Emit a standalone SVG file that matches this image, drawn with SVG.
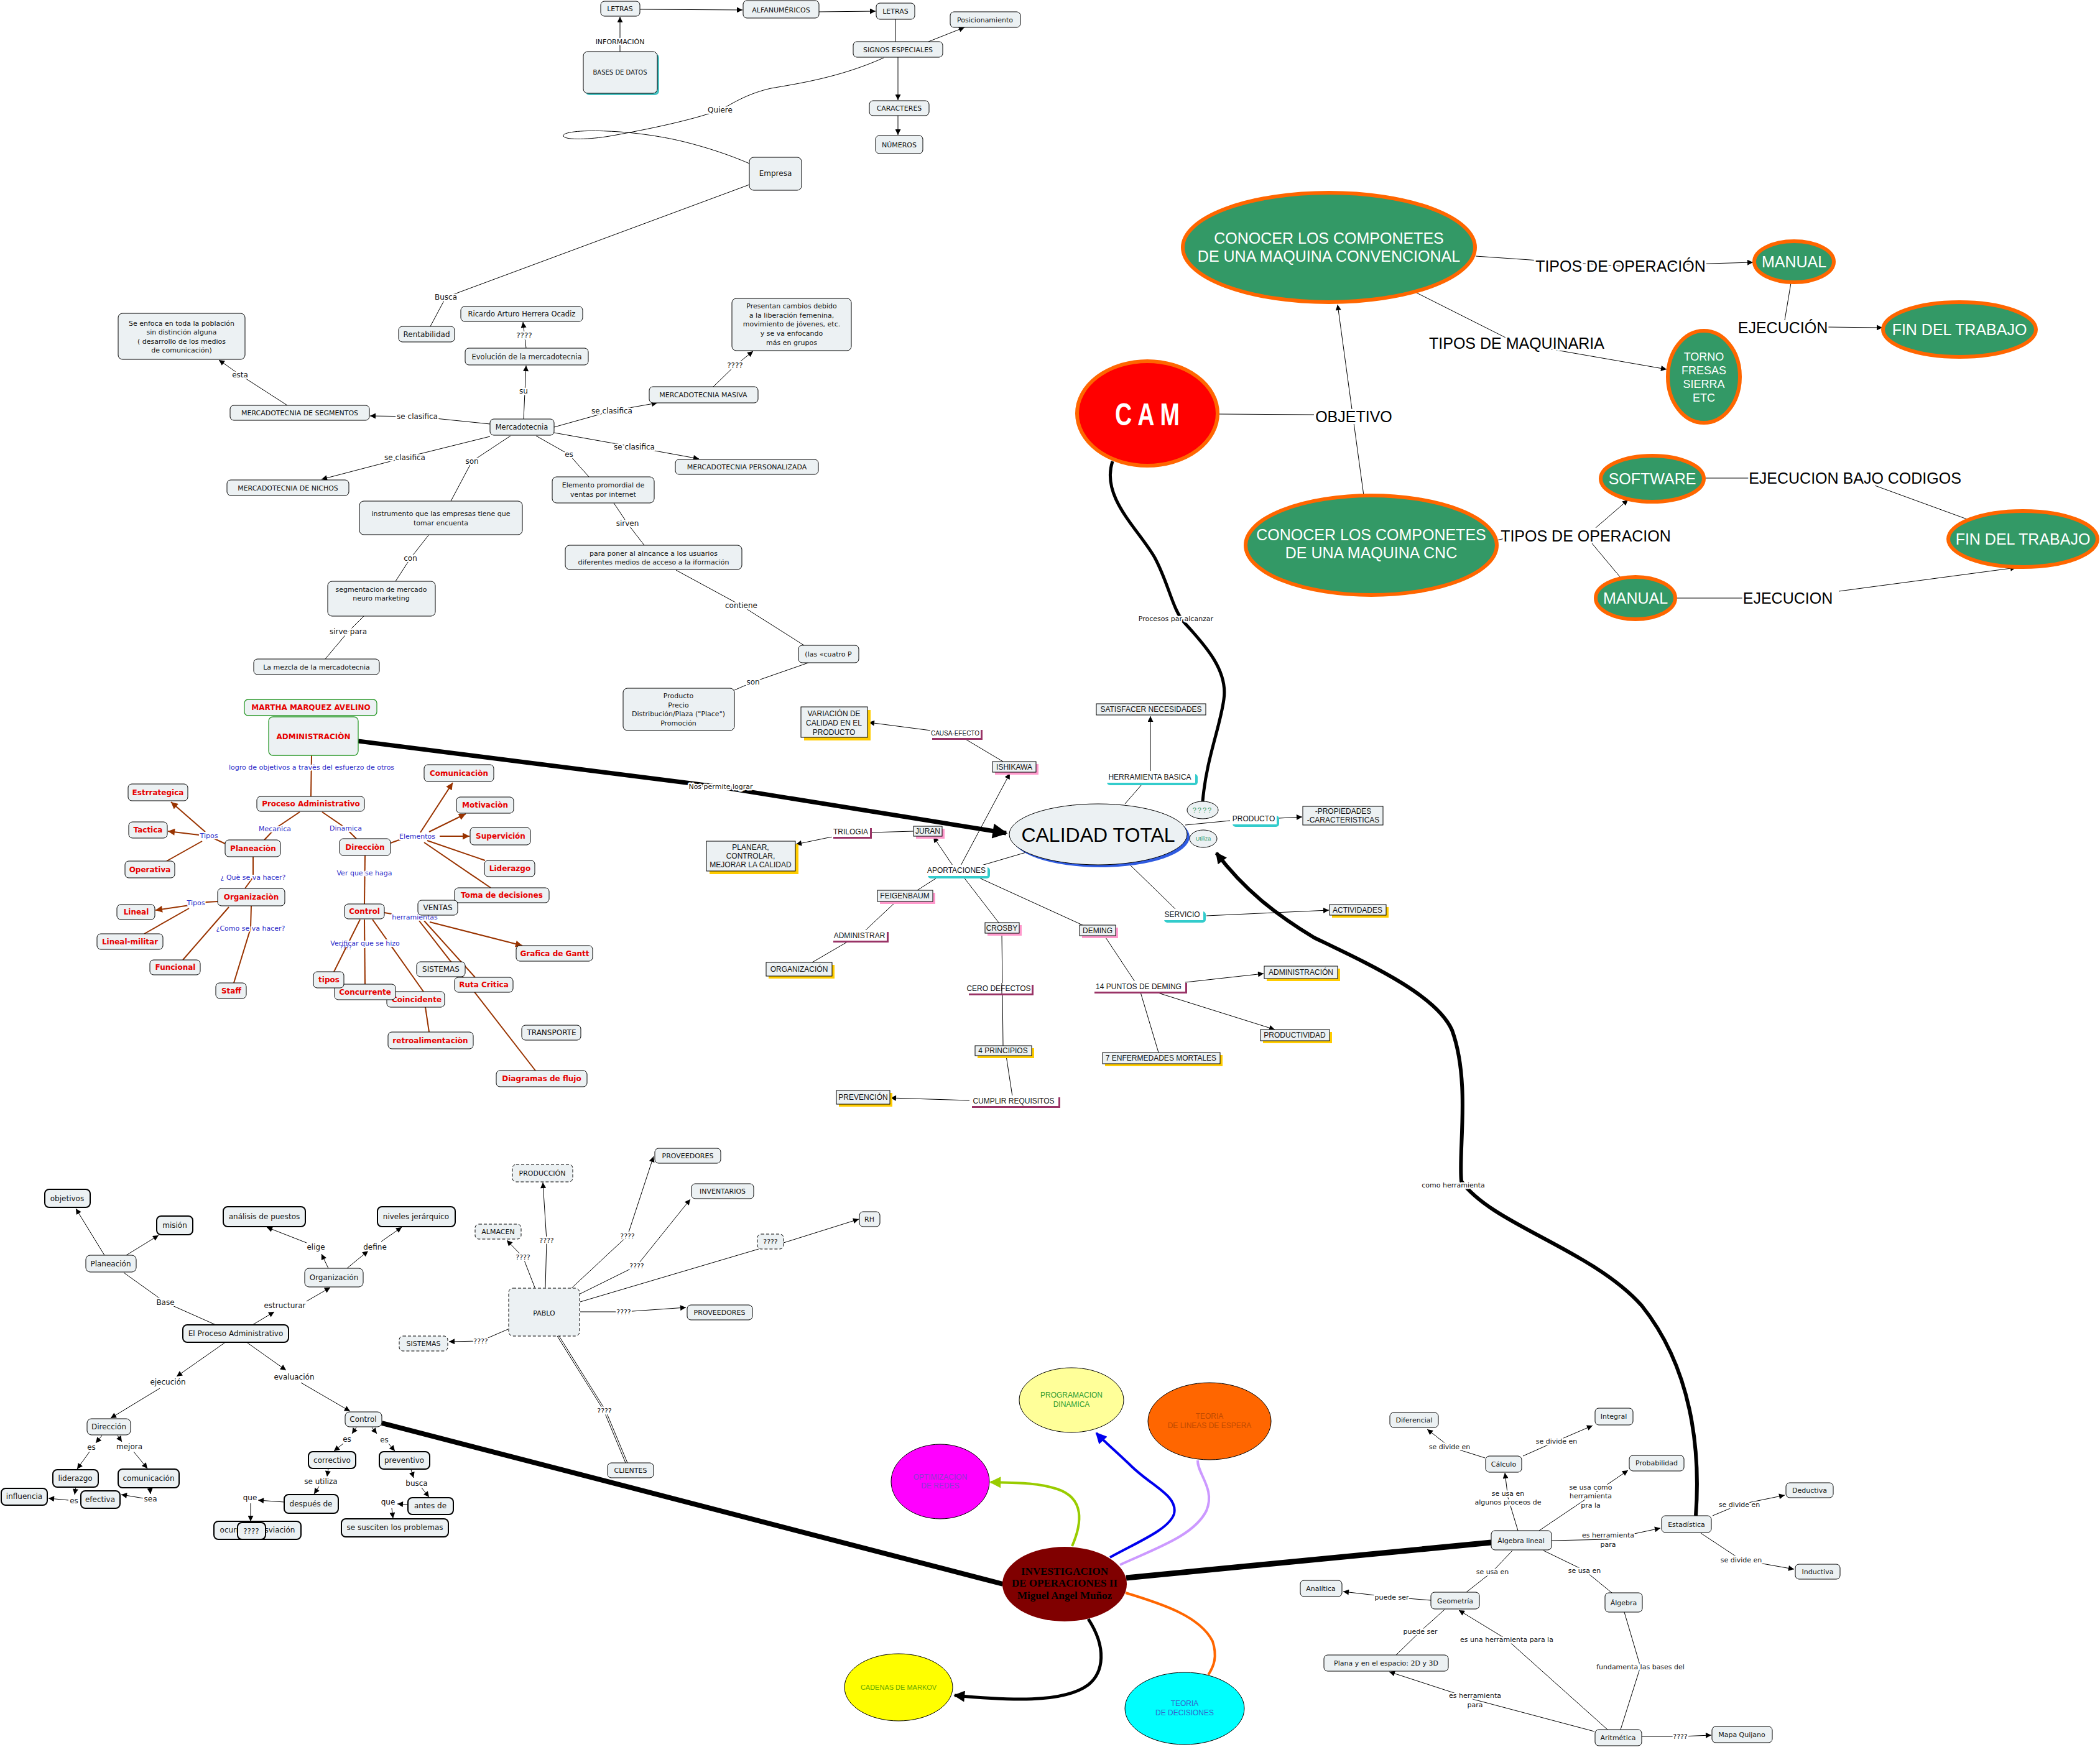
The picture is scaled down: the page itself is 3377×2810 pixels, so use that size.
<svg xmlns="http://www.w3.org/2000/svg" width="3377" height="2810" viewBox="0 0 3377 2810">
<style>
.n{fill:#ECF1F3;stroke:#000;stroke-width:1}
.nd{fill:#ECF1F3;stroke:#000;stroke-width:1;stroke-dasharray:5 3}
.nb{fill:#ECF1F3;stroke:#000;stroke-width:2}
.ng{fill:#ECF1F3;stroke:#2E9B2E;stroke-width:1.3}
.t{font-family:"DejaVu Sans",sans-serif;font-size:12px;text-anchor:middle;dominant-baseline:central;fill:#111}
.tr{font-family:"DejaVu Sans",sans-serif;font-size:12px;font-weight:bold;text-anchor:middle;dominant-baseline:central;fill:#E60000}
.tq{font-family:"Liberation Sans",Arial,sans-serif;font-size:12px;text-anchor:middle;dominant-baseline:central;fill:#111}
.tw{font-family:"Liberation Sans",Arial,sans-serif;font-size:25px;text-anchor:middle;dominant-baseline:central;fill:#fff}
.c{fill:none;stroke:#000;stroke-width:1}
.cb{fill:none;stroke:#993300;stroke-width:2}
.lb{font-family:"DejaVu Sans",sans-serif;font-size:12px;text-anchor:middle;dominant-baseline:central;fill:#111;paint-order:stroke;stroke:#fff;stroke-width:5px;stroke-linejoin:round}
.lbb{font-family:"DejaVu Sans",sans-serif;font-size:11px;text-anchor:middle;dominant-baseline:central;fill:#2B2BC8;paint-order:stroke;stroke:#fff;stroke-width:4px;stroke-linejoin:round}
.lk{font-family:"Liberation Sans",Arial,sans-serif;font-size:25px;text-anchor:middle;dominant-baseline:central;fill:#000;paint-order:stroke;stroke:#fff;stroke-width:6px;stroke-linejoin:round}
.e{fill:#339966;stroke:#FF6600;stroke-width:6}
.sy{fill:#FFCC00}
.sp{fill:#FF99CC}
.su{fill:#993366}
.st{fill:#33CCCC}
</style>
<defs>
<marker id="ar" viewBox="0 0 10 10" refX="10" refY="5" markerWidth="11" markerHeight="9" orient="auto" markerUnits="userSpaceOnUse"><path d="M0,0L10,5L0,10z" fill="#000"/></marker>
<marker id="arb" viewBox="0 0 10 10" refX="10" refY="5" markerWidth="14" markerHeight="11" orient="auto" markerUnits="userSpaceOnUse"><path d="M0,0L10,5L0,10z" fill="#993300"/></marker>
<marker id="arT" viewBox="0 0 10 10" refX="9" refY="5" markerWidth="30" markerHeight="24" orient="auto" markerUnits="userSpaceOnUse"><path d="M0,0L10,5L0,10z" fill="#000"/></marker>
<marker id="arM" viewBox="0 0 10 10" refX="9" refY="5" markerWidth="22" markerHeight="18" orient="auto" markerUnits="userSpaceOnUse"><path d="M0,0L10,5L0,10z" fill="#000"/></marker>
<marker id="arG" viewBox="0 0 10 10" refX="9" refY="5" markerWidth="22" markerHeight="18" orient="auto" markerUnits="userSpaceOnUse"><path d="M0,0L10,5L0,10z" fill="#99CC00"/></marker>
<marker id="arBl" viewBox="0 0 10 10" refX="9" refY="5" markerWidth="22" markerHeight="18" orient="auto" markerUnits="userSpaceOnUse"><path d="M0,0L10,5L0,10z" fill="#0000EE"/></marker>
</defs>
<rect width="3377" height="2810" fill="#fff"/>

<g id="connectors">
<path class="c" d="M997,83V27" marker-end="url(#ar)"/>
<path class="c" d="M1029,15L1194,16" marker-end="url(#ar)"/>
<path class="c" d="M1317,19L1408,18" marker-end="url(#ar)"/>
<path class="c" d="M1440,31V67"/>
<path class="c" d="M1493,67L1551,44" marker-end="url(#ar)"/>
<path class="c" d="M1444,92V161" marker-end="url(#ar)"/>
<path class="c" d="M1444,186V217" marker-end="url(#ar)"/>
<path class="c" d="M1421,93C1350,125 1280,135 1240,142C1205,150 1185,162 1160,176C1110,195 1020,212 980,219C950,224 910,226 906,219C903,212 940,209 977,211C1010,212 1060,218 1100,228C1140,238 1175,250 1205,263"/>
<path class="c" d="M1205,297L717,478L692,525"/>
<path class="c" d="M842,674L846,588" marker-end="url(#ar)"/>
<path class="c" d="M846,560L841,518" marker-end="url(#ar)"/>
<path class="c" d="M788,682L671,670L595,669" marker-end="url(#ar)"/>
<path class="c" d="M462,652L386,603L352,579" marker-end="url(#ar)"/>
<path class="c" d="M891,687L984,661L1057,648" marker-end="url(#ar)"/>
<path class="c" d="M1147,622L1182,588L1211,565" marker-end="url(#ar)"/>
<path class="c" d="M891,696L1020,719L1124,738" marker-end="url(#ar)"/>
<path class="c" d="M788,702L651,736L517,771" marker-end="url(#ar)"/>
<path class="c" d="M821,701L759,742L725,806"/>
<path class="c" d="M862,701L915,731L947,767"/>
<path class="c" d="M987,809L1009,842L1036,877"/>
<path class="c" d="M689,861L660,898L636,935"/>
<path class="c" d="M585,991L560,1016L523,1060"/>
<path class="c" d="M1087,917L1192,974L1293,1038"/>
<path class="c" d="M1300,1066L1211,1097L1181,1110"/>
<path class="cb" d="M501,1215L500,1281"/>
<path class="cb" d="M482,1306L442,1333L425,1351"/>
<path class="cb" d="M518,1306L556,1332L573,1349"/>
<path class="cb" d="M362,1357L336,1345"/>
<path class="cb" d="M330,1338L275,1290" marker-end="url(#arb)"/>
<path class="cb" d="M320,1343L270,1337" marker-end="url(#arb)"/>
<path class="cb" d="M325,1353L268,1385"/>
<path class="cb" d="M407,1378L407,1411L394,1429"/>
<path class="cb" d="M350,1450L315,1452"/>
<path class="cb" d="M305,1456L250,1464" marker-end="url(#arb)"/>
<path class="cb" d="M304,1461L232,1502"/>
<path class="cb" d="M368,1459L294,1544"/>
<path class="cb" d="M404,1457L403,1493L376,1581"/>
<path class="cb" d="M628,1356L650,1348"/>
<path class="cb" d="M676,1339L728,1259" marker-end="url(#arb)"/>
<path class="cb" d="M690,1338L749,1309" marker-end="url(#arb)"/>
<path class="cb" d="M707,1345L755,1345" marker-end="url(#arb)"/>
<path class="cb" d="M687,1352L780,1384"/>
<path class="cb" d="M682,1355L789,1428"/>
<path class="cb" d="M587,1376L586,1454"/>
<path class="cb" d="M618,1468L630,1470"/>
<path class="cb" d="M691,1483L840,1521" marker-end="url(#arb)"/>
<path class="cb" d="M682,1481L764,1572"/>
<path class="cb" d="M674,1481L861,1722"/>
<path class="cb" d="M579,1479L537,1563"/>
<path class="cb" d="M586,1479L587,1583"/>
<path class="cb" d="M599,1479L681,1595"/>
<path class="cb" d="M684,1620L690,1660"/>
<path d="M576,1192L1159,1266L1618,1340" fill="none" stroke="#000" stroke-width="7" marker-end="url(#arT)"/>
<path class="c" d="M1613,1225L1551,1188"/>
<path class="c" d="M1497,1175L1397,1162" marker-end="url(#ar)"/>
<path class="c" d="M1545,1392L1624,1244" marker-end="url(#ar)"/>
<path class="c" d="M1850,1240L1850,1152" marker-end="url(#ar)"/>
<path class="c" d="M1809,1293L1836,1262"/>
<path class="c" d="M1906,1327L1978,1320"/>
<path class="c" d="M2057,1316L2094,1314" marker-end="url(#ar)"/>
<path class="c" d="M1816,1390L1891,1463"/>
<path class="c" d="M1940,1473L2137,1464" marker-end="url(#ar)"/>
<path class="c" d="M1469,1337L1400,1339"/>
<path class="c" d="M1338,1346L1280,1358" marker-end="url(#ar)"/>
<path class="c" d="M1650,1371L1575,1393"/>
<path class="c" d="M1532,1392L1501,1346" marker-end="url(#ar)"/>
<path class="c" d="M1511,1409L1475,1432"/>
<path class="c" d="M1441,1450L1391,1497"/>
<path class="c" d="M1366,1513L1306,1548"/>
<path class="c" d="M1549,1410L1606,1484"/>
<path class="c" d="M1568,1409L1741,1488"/>
<path class="c" d="M1611,1501L1613,1682"/>
<path class="c" d="M1618,1698L1629,1770"/>
<path class="c" d="M1559,1770L1432,1766" marker-end="url(#ar)"/>
<path class="c" d="M1776,1505L1827,1582"/>
<path class="c" d="M1906,1580L2032,1566" marker-end="url(#ar)"/>
<path class="c" d="M1859,1596L2050,1656" marker-end="url(#ar)"/>
<path class="c" d="M1834,1596L1863,1693"/>
<path d="M1789,742C1770,800 1830,850 1857,897C1880,940 1885,980 1905,1002C1940,1040 1975,1080 1968,1125C1962,1170 1940,1220 1934,1289" fill="none" stroke="#000" stroke-width="5"/>
<path d="M2727,2438C2735,2330 2720,2200 2640,2100C2560,2010 2400,1970 2350,1900C2345,1850 2365,1740 2335,1657C2310,1600 2200,1550 2113,1508C2050,1470 2000,1430 1956,1372" fill="none" stroke="#000" stroke-width="6" marker-end="url(#arM)"/>
<path class="c" d="M1958,666L2113,667"/>
<path class="c" d="M2193,797L2151,490" marker-end="url(#ar)"/>
<path class="c" d="M2373,412L2606,428L2819,422" marker-end="url(#ar)"/>
<path class="c" d="M2278,471L2439,552L2680,594" marker-end="url(#ar)"/>
<path class="c" d="M2880,455L2870,515"/>
<path class="c" d="M2935,526L3027,527" marker-end="url(#ar)"/>
<path class="c" d="M2407,869L2420,866"/>
<path class="c" d="M2566,849L2618,804" marker-end="url(#ar)"/>
<path class="c" d="M2560,874L2606,929"/>
<path class="c" d="M2740,769L2814,769"/>
<path class="c" d="M3015,781L3163,835"/>
<path class="c" d="M2695,962L2809,962"/>
<path class="c" d="M2957,951L3242,913" marker-end="url(#ar)"/>
<path class="c" d="M168,2019L122,1944" marker-end="url(#ar)"/>
<path class="c" d="M203,2019L255,1987" marker-end="url(#ar)"/>
<path class="c" d="M199,2047L266,2095L347,2131"/>
<path class="c" d="M406,2131L441,2110" marker-end="url(#ar)"/>
<path class="c" d="M493,2093L531,2071" marker-end="url(#ar)"/>
<path class="c" d="M528,2040L517,2017" marker-end="url(#ar)"/>
<path class="c" d="M493,1999L429,1974" marker-end="url(#ar)"/>
<path class="c" d="M558,2040L592,2012" marker-end="url(#ar)"/>
<path class="c" d="M613,1997L646,1974" marker-end="url(#ar)"/>
<path class="c" d="M361,2160L284,2214" marker-end="url(#ar)"/>
<path class="c" d="M257,2233L178,2281" marker-end="url(#ar)"/>
<path class="c" d="M398,2160L460,2204" marker-end="url(#ar)"/>
<path class="c" d="M484,2224L563,2270" marker-end="url(#ar)"/>
<path class="c" d="M164,2309L154,2321" marker-end="url(#ar)"/>
<path class="c" d="M144,2335L124,2363" marker-end="url(#ar)"/>
<path class="c" d="M189,2309L196,2319" marker-end="url(#ar)"/>
<path class="c" d="M215,2335L237,2362" marker-end="url(#ar)"/>
<path class="c" d="M122,2392L120,2404" marker-end="url(#ar)"/>
<path class="c" d="M110,2413L78,2410" marker-end="url(#ar)"/>
<path class="c" d="M241,2393L242,2403" marker-end="url(#ar)"/>
<path class="c" d="M231,2410L195,2404" marker-end="url(#ar)"/>
<path class="c" d="M573,2296L566,2306" marker-end="url(#ar)"/>
<path class="c" d="M552,2322L537,2334" marker-end="url(#ar)"/>
<path class="c" d="M598,2296L606,2306" marker-end="url(#ar)"/>
<path class="c" d="M625,2322L635,2334" marker-end="url(#ar)"/>
<path class="c" d="M528,2362L526,2375" marker-end="url(#ar)"/>
<path class="c" d="M513,2391L505,2403" marker-end="url(#ar)"/>
<path class="c" d="M457,2416L415,2413" marker-end="url(#ar)"/>
<path class="c" d="M403,2418L403,2447" marker-end="url(#ar)"/>
<path class="c" d="M661,2364L665,2377" marker-end="url(#ar)"/>
<path class="c" d="M678,2393L690,2408" marker-end="url(#ar)"/>
<path class="c" d="M656,2420L639,2419" marker-end="url(#ar)"/>
<path class="c" d="M630,2426L632,2442" marker-end="url(#ar)"/>
<path d="M614,2289L1613,2548" fill="none" stroke="#000" stroke-width="8"/>
<path class="c" d="M860,2071L841,2022L815,1995" marker-end="url(#ar)"/>
<path class="c" d="M877,2071L879,1995L873,1902" marker-end="url(#ar)"/>
<path class="c" d="M919,2072L1009,1988L1051,1860" marker-end="url(#ar)"/>
<path class="c" d="M933,2081L1024,2036L1110,1929" marker-end="url(#ar)"/>
<path class="c" d="M933,2094L1220,2009"/>
<path class="c" d="M1260,1999L1381,1961" marker-end="url(#ar)"/>
<path class="c" d="M933,2110L1003,2110L1103,2103" marker-end="url(#ar)"/>
<path class="c" d="M817,2138L773,2157L722,2158" marker-end="url(#ar)"/>
<path class="c" d="M896,2149L971,2269L1006,2353"/>
<path class="c" d="M899,2149L974,2269L1009,2353"/>
<path d="M1724,2487C1740,2450 1745,2410 1700,2395C1670,2385 1640,2385 1593,2384" fill="none" stroke="#99CC00" stroke-width="4" marker-end="url(#arG)"/>
<path d="M1785,2505C1830,2480 1880,2460 1888,2435C1895,2405 1850,2390 1816,2355C1790,2330 1775,2318 1763,2305" fill="none" stroke="#0000EE" stroke-width="4" marker-end="url(#arBl)"/>
<path d="M1801,2517C1860,2490 1920,2470 1940,2430C1955,2395 1925,2370 1926,2349" fill="none" stroke="#CC99FF" stroke-width="4"/>
<path d="M1810,2562C1870,2580 1930,2600 1950,2640C1958,2665 1952,2680 1943,2694" fill="none" stroke="#FF6600" stroke-width="4"/>
<path d="M1750,2604C1780,2650 1775,2690 1750,2710C1710,2740 1620,2735 1535,2727" fill="none" stroke="#000" stroke-width="5" marker-end="url(#arM)"/>
<path d="M1811,2538L2398,2481" fill="none" stroke="#000" stroke-width="9"/>
<path class="c" d="M2388,2345L2331,2327L2295,2299" marker-end="url(#ar)"/>
<path class="c" d="M2449,2342L2503,2318L2561,2293" marker-end="url(#ar)"/>
<path class="c" d="M2441,2462L2425,2409L2420,2369" marker-end="url(#ar)"/>
<path class="c" d="M2475,2462L2558,2406L2618,2365" marker-end="url(#ar)"/>
<path class="c" d="M2495,2478L2586,2476L2670,2458" marker-end="url(#ar)"/>
<path class="c" d="M2754,2438L2797,2420L2870,2405" marker-end="url(#ar)"/>
<path class="c" d="M2735,2466L2800,2509L2885,2524" marker-end="url(#ar)"/>
<path class="c" d="M2432,2494L2400,2528L2358,2561"/>
<path class="c" d="M2482,2494L2548,2526L2592,2562"/>
<path class="c" d="M2301,2574L2238,2569L2160,2560" marker-end="url(#ar)"/>
<path class="c" d="M2323,2589L2284,2624L2245,2662"/>
<path class="c" d="M2585,2782L2423,2637L2346,2590" marker-end="url(#ar)"/>
<path class="c" d="M2606,2782L2638,2681L2612,2593"/>
<path class="c" d="M2564,2785L2372,2734L2234,2689" marker-end="url(#ar)"/>
<path class="c" d="M2640,2793L2702,2793L2752,2791" marker-end="url(#ar)"/>

<text class="lb" x="997" y="67" style="font-size:11px">INFORMACIÓN</text>
<text class="lb" x="1158" y="177">Quiere</text>
<text class="lb" x="717" y="478">Busca</text>
<text class="lb" x="842" y="629">su</text>
<text class="lb" x="843" y="540">????</text>
<text class="lb" x="671" y="670">se clasifica</text>
<text class="lb" x="386" y="603">esta</text>
<text class="lb" x="984" y="661">se clasifica</text>
<text class="lb" x="1182" y="588">????</text>
<text class="lb" x="1020" y="719">se clasifica</text>
<text class="lb" x="651" y="736">se clasifica</text>
<text class="lb" x="759" y="742">son</text>
<text class="lb" x="915" y="731">es</text>
<text class="lb" x="1009" y="842">sirven</text>
<text class="lb" x="660" y="898">con</text>
<text class="lb" x="560" y="1016">sirve para</text>
<text class="lb" x="1192" y="974">contiene</text>
<text class="lb" x="1211" y="1097">son</text>
<text class="lbb" x="501" y="1234">logro de objetivos a travès del esfuerzo de otros</text>
<text class="lbb" x="442" y="1333">Mecanica</text>
<text class="lbb" x="556" y="1332">Dinamica</text>
<text class="lbb" x="336" y="1344">Tipos</text>
<text class="lbb" x="407" y="1411">¿ Què se va hacer?</text>
<text class="lbb" x="315" y="1452">Tipos</text>
<text class="lbb" x="403" y="1493">¿Como se va hacer?</text>
<text class="lbb" x="671" y="1345">Elementos</text>
<text class="lbb" x="586" y="1404">Ver que se haga</text>
<text class="lbb" x="667" y="1475">herramientas</text>
<text class="lbb" x="587" y="1517">Verificar que se hizo</text>
<text x="556" y="1524" style="font-family:'DejaVu Sans',sans-serif;font-size:9px;fill:#2B2BC8;text-anchor:middle;dominant-baseline:central">????</text>
<text class="lb" x="1159" y="1265" style="font-size:11px">Nos permite lograr</text>
<text class="lb" x="1891" y="995" style="font-size:11px">Procesos par alcanzar</text>
<text class="lb" x="2337" y="1906" style="font-size:11px">como herramienta</text>
<text class="lk" x="2606" y="428">TIPOS DE OPERACIÓN</text>
<text class="lk" x="2439" y="552">TIPOS DE MAQUINARIA</text>
<text class="lk" x="2867" y="527">EJECUCIÓN</text>
<text class="lk" x="2177" y="670">OBJETIVO</text>
<text class="lk" x="2983" y="769">EJECUCION BAJO CODIGOS</text>
<text class="lk" x="2550" y="862">TIPOS DE OPERACION</text>
<text class="lk" x="2875" y="962">EJECUCION</text>
<text class="lb" x="266" y="2095">Base</text>
<text class="lb" x="458" y="2100">estructurar</text>
<text class="lb" x="508" y="2006">elige</text>
<text class="lb" x="603" y="2006">define</text>
<text class="lb" x="270" y="2223">ejecución</text>
<text class="lb" x="473" y="2215">evaluación</text>
<text class="lb" x="147" y="2328">es</text>
<text class="lb" x="208" y="2327">mejora</text>
<text class="lb" x="119" y="2414">es</text>
<text class="lb" x="242" y="2411">sea</text>
<text class="lb" x="558" y="2315">es</text>
<text class="lb" x="618" y="2316">es</text>
<text class="lb" x="516" y="2383">se utiliza</text>
<text class="lb" x="402" y="2409">que</text>
<text class="lb" x="670" y="2386">busca</text>
<text class="lb" x="624" y="2416">que</text>
<text class="lb" x="841" y="2022" style="font-size:11px">????</text>
<text class="lb" x="879" y="1995" style="font-size:11px">????</text>
<text class="lb" x="1009" y="1988" style="font-size:11px">????</text>
<text class="lb" x="1024" y="2036" style="font-size:11px">????</text>
<text class="lb" x="1003" y="2110" style="font-size:11px">????</text>
<text class="lb" x="773" y="2157" style="font-size:11px">????</text>
<text class="lb" x="972" y="2269" style="font-size:11px">????</text>
<text class="lb" x="2331" y="2327" style="font-size:11px">se divide en</text>
<text class="lb" x="2503" y="2318" style="font-size:11px">se divide en</text>
<text class="lb" x="2425" y="2402" style="font-size:11px">se usa en</text>
<text class="lb" x="2425" y="2416" style="font-size:11px">algunos proceos de</text>
<text class="lb" x="2558" y="2392" style="font-size:11px">se usa como</text>
<text class="lb" x="2558" y="2406" style="font-size:11px">herramienta</text>
<text class="lb" x="2558" y="2421" style="font-size:11px">pra la</text>
<text class="lb" x="2586" y="2469" style="font-size:11px">es herramienta</text>
<text class="lb" x="2586" y="2484" style="font-size:11px">para</text>
<text class="lb" x="2797" y="2420" style="font-size:11px">se divide en</text>
<text class="lb" x="2800" y="2509" style="font-size:11px">se divide en</text>
<text class="lb" x="2400" y="2528" style="font-size:11px">se usa en</text>
<text class="lb" x="2548" y="2526" style="font-size:11px">se usa en</text>
<text class="lb" x="2238" y="2569" style="font-size:11px">puede ser</text>
<text class="lb" x="2284" y="2624" style="font-size:11px">puede ser</text>
<text class="lb" x="2423" y="2637" style="font-size:11px">es una herramienta para la</text>
<text class="lb" x="2638" y="2681" style="font-size:11px">fundamenta las bases del</text>
<text class="lb" x="2372" y="2727" style="font-size:11px">es herramienta</text>
<text class="lb" x="2372" y="2742" style="font-size:11px">para</text>
<text class="lb" x="2702" y="2793" style="font-size:11px">????</text>
</g>

<g id="letras1"><rect class="n" x="966" y="2" width="63" height="24" rx="6"/><text class="t" x="997" y="14" style="font-size:11px">LETRAS</text></g>
<g id="bases"><rect x="941" y="86" width="119" height="67" rx="7" fill="#47C1C1"/><rect class="n" x="938" y="83" width="119" height="67" rx="7"/><text class="t" x="997" y="116" style="font-size:10px">BASES  DE  DATOS</text></g>
<g id="alfanum"><rect class="n" x="1195" y="1" width="122" height="28" rx="6"/><text class="t" x="1256" y="16" style="font-size:11px">ALFANUMÉRICOS</text></g>
<g id="letras2"><rect class="n" x="1409" y="5" width="62" height="26" rx="6"/><text class="t" x="1440" y="18" style="font-size:11px">LETRAS</text></g>
<g id="posicionamiento"><rect class="n" x="1528" y="19" width="113" height="25" rx="6"/><text class="t" x="1584" y="32" style="font-size:11px">Posicionamiento</text></g>
<g id="signos"><rect class="n" x="1372" y="67" width="144" height="25" rx="6"/><text class="t" x="1444" y="80" style="font-size:11px">SIGNOS ESPECIALES</text></g>
<g id="caracteres"><rect class="n" x="1398" y="162" width="96" height="24" rx="6"/><text class="t" x="1446" y="174" style="font-size:11px">CARACTERES</text></g>
<g id="numeros"><rect class="n" x="1408" y="218" width="76" height="29" rx="6"/><text class="t" x="1446" y="233" style="font-size:11px">NÚMEROS</text></g>
<g id="empresa"><rect class="n" x="1205" y="253" width="84" height="53" rx="7"/><text class="t" x="1247" y="279">Empresa</text></g>
<g id="rentabilidad"><rect class="n" x="641" y="525" width="90" height="25" rx="6"/><text class="t" x="686" y="538">Rentabilidad</text></g>

<g id="seenfoca"><rect class="n" x="190" y="504" width="204" height="74" rx="7"/><text class="t" x="292" y="520" style="font-size:11px">Se enfoca en toda la población</text><text class="t" x="292" y="534" style="font-size:11px">sin distinción alguna</text><text class="t" x="292" y="549" style="font-size:11px">( desarrollo de los medios</text><text class="t" x="292" y="563" style="font-size:11px">de comunicación)</text></g>
<g id="ricardo"><rect class="n" x="741" y="493" width="196" height="24" rx="6"/><text class="t" x="839" y="505" style="font-size:11.5px">Ricardo Arturo Herrera Ocadiz</text></g>
<g id="evolucion"><rect class="n" x="748" y="560" width="198" height="27" rx="6"/><text class="t" x="847" y="574" style="font-size:11.5px">Evolución de la mercadotecnia</text></g>
<g id="presentan"><rect class="n" x="1177" y="480" width="192" height="84" rx="7"/><text class="t" x="1273" y="492" style="font-size:11px">Presentan cambios debido</text><text class="t" x="1273" y="507" style="font-size:11px">a la liberación femenina,</text><text class="t" x="1273" y="521" style="font-size:11px">movimiento de jóvenes, etc.</text><text class="t" x="1273" y="536" style="font-size:11px">y se va enfocando</text><text class="t" x="1273" y="551" style="font-size:11px">más en grupos</text></g>
<g id="masiva"><rect class="n" x="1044" y="622" width="175" height="26" rx="6"/><text class="t" x="1131" y="635" style="font-size:11px">MERCADOTECNIA MASIVA</text></g>
<g id="mercadotecnia"><rect class="n" x="788" y="674" width="103" height="26" rx="6"/><text class="t" x="839" y="687" style="font-size:11.5px">Mercadotecnia</text></g>
<g id="segmentos"><rect class="n" x="370" y="652" width="224" height="24" rx="6"/><text class="t" x="482" y="664" style="font-size:11px">MERCADOTECNIA DE SEGMENTOS</text></g>
<g id="personalizada"><rect class="n" x="1086" y="739" width="230" height="24" rx="6"/><text class="t" x="1201" y="751" style="font-size:11px">MERCADOTECNIA PERSONALIZADA</text></g>
<g id="nichos"><rect class="n" x="365" y="772" width="196" height="25" rx="6"/><text class="t" x="463" y="785" style="font-size:11px">MERCADOTECNIA DE NICHOS</text></g>
<g id="elemento"><rect class="n" x="888" y="767" width="164" height="42" rx="7"/><text class="t" x="970" y="780" style="font-size:11px">Elemento promordial de</text><text class="t" x="970" y="795" style="font-size:11px">ventas por internet</text></g>
<g id="instrumento"><rect class="n" x="578" y="806" width="262" height="54" rx="7"/><text class="t" x="709" y="826" style="font-size:11px">instrumento que las empresas tiene que</text><text class="t" x="709" y="841" style="font-size:11px">tomar encuenta</text></g>
<g id="paraponer"><rect class="n" x="909" y="877" width="284" height="39" rx="7"/><text class="t" x="1051" y="890" style="font-size:11px">para  poner al alncance a los usuarios</text><text class="t" x="1051" y="904" style="font-size:11px">diferentes medios de acceso a la iformación</text></g>
<g id="segmentacion"><rect class="n" x="527" y="935" width="173" height="56" rx="7"/><text class="t" x="613" y="948" style="font-size:11px">segmentacion de mercado</text><text class="t" x="613" y="962" style="font-size:11px">neuro marketing</text></g>
<g id="mezcla"><rect class="n" x="408" y="1060" width="202" height="25" rx="6"/><text class="t" x="509" y="1073" style="font-size:11px">La mezcla de la mercadotecnia</text></g>
<g id="cuatrop"><rect class="n" x="1284" y="1038" width="97" height="28" rx="6"/><text class="t" x="1332" y="1052" style="font-size:11px">(las «cuatro P</text></g>
<g id="producto4p"><rect class="n" x="1002" y="1107" width="179" height="68" rx="7"/><text class="t" x="1091" y="1119" style="font-size:11px">Producto</text><text class="t" x="1091" y="1134" style="font-size:11px">Precio</text><text class="t" x="1091" y="1148" style="font-size:11px">Distribución/Plaza ("Place")</text><text class="t" x="1091" y="1163" style="font-size:11px">Promoción</text></g>

<g id="martha"><rect class="ng" x="393" y="1125" width="213" height="26" rx="6"/><text class="tr" x="500" y="1138">MARTHA MARQUEZ  AVELINO</text></g>
<g id="administracion"><rect class="ng" x="432" y="1153" width="144" height="62" rx="7"/><text class="tr" x="504" y="1185">ADMINISTRACIÒN</text></g>
<g id="procesoadm"><rect class="n" x="413" y="1281" width="173" height="24" rx="6"/><text class="tr" x="500" y="1293">Proceso Administrativo</text></g>
<g id="planeacion1"><rect class="n" x="362" y="1351" width="89" height="27" rx="6"/><text class="tr" x="407" y="1365">Planeaciòn</text></g>
<g id="estrategica"><rect class="n" x="206" y="1261" width="96" height="27" rx="6"/><text class="tr" x="254" y="1275">Estrrategica</text></g>
<g id="tactica"><rect class="n" x="207" y="1322" width="62" height="26" rx="6"/><text class="tr" x="238" y="1335">Tactica</text></g>
<g id="operativa"><rect class="n" x="201" y="1385" width="80" height="27" rx="6"/><text class="tr" x="241" y="1399">Operativa</text></g>
<g id="organizacion1"><rect class="n" x="350" y="1429" width="108" height="28" rx="6"/><text class="tr" x="404" y="1443">Organizaciòn</text></g>
<g id="lineal"><rect class="n" x="188" y="1455" width="61" height="24" rx="6"/><text class="tr" x="219" y="1467">Lineal</text></g>
<g id="linealmilitar"><rect class="n" x="156" y="1502" width="106" height="25" rx="6"/><text class="tr" x="209" y="1515">Lineal-militar</text></g>
<g id="funcional"><rect class="n" x="241" y="1544" width="81" height="24" rx="6"/><text class="tr" x="282" y="1556">Funcional</text></g>
<g id="staff"><rect class="n" x="347" y="1581" width="49" height="25" rx="6"/><text class="tr" x="372" y="1594">Staff</text></g>
<g id="direccion1"><rect class="n" x="546" y="1349" width="82" height="27" rx="6"/><text class="tr" x="587" y="1363">Direcciòn</text></g>
<g id="comunicacion1"><rect class="n" x="682" y="1230" width="112" height="27" rx="6"/><text class="tr" x="738" y="1244">Comunicaciòn</text></g>
<g id="motivacion"><rect class="n" x="734" y="1282" width="92" height="26" rx="6"/><text class="tr" x="780" y="1295">Motivaciòn</text></g>
<g id="supervicion"><rect class="n" x="756" y="1331" width="97" height="28" rx="6"/><text class="tr" x="805" y="1345">Supervición</text></g>
<g id="liderazgo1"><rect class="n" x="779" y="1384" width="81" height="26" rx="6"/><text class="tr" x="820" y="1397">Liderazgo</text></g>
<g id="toma"><rect class="n" x="731" y="1428" width="152" height="24" rx="6"/><text class="tr" x="807" y="1440">Toma de decisiones</text></g>
<g id="control1"><rect class="n" x="554" y="1454" width="64" height="24" rx="6"/><text class="tr" x="586" y="1466">Control</text></g>
<g id="ventas"><rect class="n" x="672" y="1448" width="64" height="24" rx="6"/><text class="t" x="704" y="1460">VENTAS</text></g>
<g id="gantt"><rect class="n" x="830" y="1521" width="123" height="25" rx="6"/><text class="tr" x="892" y="1534">Grafica de Gantt</text></g>
<g id="sistemas1"><rect class="n" x="670" y="1547" width="78" height="24" rx="6"/><text class="t" x="709" y="1559">SISTEMAS</text></g>
<g id="ruta"><rect class="n" x="731" y="1572" width="94" height="24" rx="6"/><text class="tr" x="778" y="1584">Ruta Critica</text></g>
<g id="transporte"><rect class="n" x="839" y="1649" width="95" height="24" rx="6"/><text class="t" x="887" y="1661">TRANSPORTE</text></g>
<g id="diagramas"><rect class="n" x="798" y="1722" width="146" height="26" rx="6"/><text class="tr" x="871" y="1735">Diagramas  de flujo</text></g>
<g id="coincidente"><rect class="n" x="622" y="1595" width="93" height="25" rx="6"/><text class="tr" x="670" y="1608">Coincidente</text></g>
<g id="concurrente"><rect class="n" x="538" y="1583" width="98" height="25" rx="6"/><text class="tr" x="587" y="1596">Concurrente</text></g>
<g id="tipos"><rect class="n" x="504" y="1563" width="49" height="26" rx="6"/><text class="tr" x="529" y="1576">tipos</text></g>
<g id="retro"><rect class="n" x="624" y="1660" width="137" height="27" rx="6"/><text class="tr" x="692" y="1674">retroalimentaciòn</text></g>

<g id="variacion"><rect class="sy" x="1293" y="1142" width="107" height="49"/><rect class="n" x="1288" y="1137" width="107" height="49"/><text class="tq" x="1341" y="1148">VARIACIÓN DE</text><text class="tq" x="1341" y="1163">CALIDAD EN EL</text><text class="tq" x="1341" y="1178">PRODUCTO</text></g>
<g id="causaefecto"><rect class="su" x="1499" y="1174" width="81" height="16"/><rect x="1496" y="1171" width="81" height="16" fill="#fff"/><text class="tq" x="1536" y="1179" style="font-size:10px">CAUSA-EFECTO</text></g>
<g id="ishikawa"><rect class="sp" x="1600" y="1229" width="70" height="17"/><rect class="n" x="1596" y="1225" width="70" height="17"/><text class="tq" x="1631" y="1234">ISHIKAWA</text></g>
<g id="satisfacer"><rect class="n" x="1763" y="1132" width="176" height="18"/><text class="tq" x="1851" y="1141">SATISFACER NECESIDADES</text></g>
<g id="herramienta"><rect class="st" x="1780" y="1245" width="146" height="18" rx="5"/><rect x="1776" y="1241" width="146" height="18" fill="#fff"/><text class="tq" x="1849" y="1250">HERRAMIENTA BASICA</text></g>
<g id="calidad"><ellipse cx="1770" cy="1346" rx="143" ry="49" fill="#2F5BE0"/><ellipse cx="1766" cy="1342" rx="143" ry="49" fill="#ECF1F3" stroke="#000" stroke-width="1"/><text x="1766" y="1343" style="font-family:'Liberation Sans',Arial,sans-serif;font-size:32px;text-anchor:middle;dominant-baseline:central;fill:#000">CALIDAD TOTAL</text></g>
<g id="qq"><ellipse cx="1934" cy="1303" rx="25" ry="14" fill="#ECF1F3" stroke="#000"/><text x="1934" y="1303" style="font-family:'Liberation Sans',sans-serif;font-size:11px;text-anchor:middle;dominant-baseline:central;fill:#339966;letter-spacing:2px">????</text></g>
<g id="utiliza"><ellipse cx="1935" cy="1349" rx="22" ry="14" fill="#ECF1F3" stroke="#000"/><text x="1935" y="1349" style="font-family:'Liberation Sans',sans-serif;font-size:9px;text-anchor:middle;dominant-baseline:central;fill:#339966">Utiliza</text></g>
<g id="productoL"><rect class="st" x="1982" y="1312" width="75" height="18" rx="5"/><rect x="1978" y="1308" width="75" height="18" fill="#fff"/><text class="tq" x="2016" y="1317">PRODUCTO</text></g>
<g id="propiedades"><rect class="n" x="2095" y="1297" width="129" height="30"/><text class="tq" x="2160" y="1305">-PROPIEDADES</text><text class="tq" x="2160" y="1319">-CARACTERISTICAS</text></g>
<g id="servicio"><rect class="st" x="1872" y="1466" width="67" height="18" rx="5"/><rect x="1868" y="1462" width="67" height="18" fill="#fff"/><text class="tq" x="1901" y="1471">SERVICIO</text></g>
<g id="actividades"><rect class="sy" x="2142" y="1459" width="91" height="17"/><rect class="n" x="2138" y="1455" width="91" height="17"/><text class="tq" x="2183" y="1464">ACTIVIDADES</text></g>
<g id="juran"><rect class="sp" x="1473" y="1333" width="46" height="16"/><rect class="n" x="1469" y="1329" width="46" height="16"/><text class="tq" x="1492" y="1337">JURAN</text></g>
<g id="trilogia"><rect class="su" x="1340" y="1332" width="62" height="17"/><rect x="1337" y="1329" width="62" height="17" fill="#fff"/><text class="tq" x="1368" y="1338">TRILOGIA</text></g>
<g id="planear"><rect class="sy" x="1141" y="1358" width="143" height="48"/><rect class="n" x="1136" y="1353" width="143" height="48"/><text class="tq" x="1207" y="1363">PLANEAR,</text><text class="tq" x="1207" y="1377">CONTROLAR,</text><text class="tq" x="1207" y="1391">MEJORAR LA CALIDAD</text></g>
<g id="aportaciones"><rect class="st" x="1492" y="1395" width="100" height="18" rx="5"/><rect x="1488" y="1391" width="100" height="18" fill="#fff"/><text class="tq" x="1538" y="1400">APORTACIONES</text></g>
<g id="feigenbaum"><rect class="sp" x="1415" y="1436" width="89" height="18"/><rect class="n" x="1411" y="1432" width="89" height="18"/><text class="tq" x="1455" y="1441">FEIGENBAUM</text></g>
<g id="administrar"><rect class="su" x="1340" y="1499" width="89" height="17"/><rect x="1337" y="1496" width="89" height="17" fill="#fff"/><text class="tq" x="1382" y="1505">ADMINISTRAR</text></g>
<g id="organizacionC"><rect class="sy" x="1236" y="1552" width="106" height="22"/><rect class="n" x="1232" y="1548" width="106" height="22"/><text class="tq" x="1285" y="1559">ORGANIZACIÓN</text></g>
<g id="crosby"><rect class="sp" x="1588" y="1488" width="55" height="17"/><rect class="n" x="1584" y="1484" width="55" height="17"/><text class="tq" x="1611" y="1493">CROSBY</text></g>
<g id="deming"><rect class="sp" x="1740" y="1492" width="58" height="17"/><rect class="n" x="1736" y="1488" width="58" height="17"/><text class="tq" x="1765" y="1497">DEMING</text></g>
<g id="cero"><rect class="su" x="1558" y="1584" width="104" height="17"/><rect x="1555" y="1581" width="104" height="17" fill="#fff"/><path class="c" d="M1611,1581V1598"/><text class="tq" x="1606" y="1590">CERO DEFECTOS</text></g>
<g id="principios"><rect class="sy" x="1572" y="1686" width="91" height="16"/><rect class="n" x="1568" y="1682" width="91" height="16"/><text class="tq" x="1613" y="1690">4 PRINCIPIOS</text></g>
<g id="cumplir"><rect class="su" x="1563" y="1765" width="142" height="17"/><rect x="1560" y="1762" width="142" height="17" fill="#fff"/><text class="tq" x="1630" y="1771">CUMPLIR REQUISITOS</text></g>
<g id="prevencion"><rect class="sy" x="1349" y="1758" width="86" height="22"/><rect class="n" x="1345" y="1754" width="86" height="22"/><text class="tq" x="1388" y="1765">PREVENCIÓN</text></g>
<g id="puntos"><rect class="su" x="1760" y="1581" width="149" height="17"/><rect x="1757" y="1578" width="149" height="17" fill="#fff"/><text class="tq" x="1831" y="1587">14 PUNTOS DE DEMING</text></g>
<g id="administracionC"><rect class="sy" x="2037" y="1558" width="118" height="20"/><rect class="n" x="2033" y="1554" width="118" height="20"/><text class="tq" x="2092" y="1564">ADMINISTRACIÓN</text></g>
<g id="productividad"><rect class="sy" x="2031" y="1660" width="111" height="18"/><rect class="n" x="2027" y="1656" width="111" height="18"/><text class="tq" x="2082" y="1665">PRODUCTIVIDAD</text></g>
<g id="enfermedades"><rect class="sy" x="1777" y="1697" width="189" height="18"/><rect class="n" x="1773" y="1693" width="189" height="18"/><text class="tq" x="1867" y="1702">7 ENFERMEDADES MORTALES</text></g>

<g id="convencional"><ellipse class="e" cx="2137" cy="398" rx="235" ry="88"/><text class="tw" x="2137" y="383">CONOCER LOS COMPONETES</text><text class="tw" x="2137" y="412">DE UNA MAQUINA CONVENCIONAL</text></g>
<g id="manual1"><ellipse class="e" cx="2885" cy="421" rx="64" ry="33"/><text class="tw" x="2885" y="421">MANUAL</text></g>
<g id="fin1"><ellipse class="e" cx="3151" cy="530" rx="123" ry="44"/><text class="tw" x="3151" y="530">FIN DEL TRABAJO</text></g>
<g id="torno"><ellipse class="e" cx="2740" cy="606" rx="58" ry="74"/><text class="tw" x="2740" y="574" style="font-size:18px">TORNO</text><text class="tw" x="2740" y="596" style="font-size:18px">FRESAS</text><text class="tw" x="2740" y="618" style="font-size:18px">SIERRA</text><text class="tw" x="2740" y="640" style="font-size:18px">ETC</text></g>
<g id="cam"><ellipse cx="1845" cy="665" rx="113" ry="84" fill="#FF0000" stroke="#FF6600" stroke-width="6"/><text x="1845" y="667" textLength="104" lengthAdjust="spacingAndGlyphs" style="font-family:'Liberation Sans',Arial,sans-serif;font-size:50px;font-weight:bold;text-anchor:middle;dominant-baseline:central;fill:#fff">C A M</text></g>
<g id="cnc"><ellipse class="e" cx="2205" cy="877" rx="202" ry="80"/><text class="tw" x="2205" y="860">CONOCER LOS COMPONETES</text><text class="tw" x="2205" y="889">DE UNA MAQUINA CNC</text></g>
<g id="software"><ellipse class="e" cx="2657" cy="770" rx="83" ry="37"/><text class="tw" x="2657" y="770">SOFTWARE</text></g>
<g id="manual2"><ellipse class="e" cx="2630" cy="962" rx="64" ry="34"/><text class="tw" x="2630" y="962">MANUAL</text></g>
<g id="fin2"><ellipse class="e" cx="3253" cy="867" rx="120" ry="45"/><text class="tw" x="3253" y="867">FIN DEL TRABAJO</text></g>

<g id="objetivos"><rect class="nb" x="72" y="1913" width="73" height="29" rx="7"/><text class="t" x="108" y="1928">objetivos</text></g>
<g id="mision"><rect class="nb" x="252" y="1956" width="58" height="30" rx="7"/><text class="t" x="281" y="1971">misión</text></g>
<g id="planeacion2"><rect class="n" x="138" y="2019" width="81" height="27" rx="7"/><text class="t" x="178" y="2033">Planeación</text></g>
<g id="analisis"><rect class="nb" x="359" y="1941" width="132" height="32" rx="7"/><text class="t" x="425" y="1957">análisis de puestos</text></g>
<g id="niveles"><rect class="nb" x="607" y="1941" width="125" height="32" rx="7"/><text class="t" x="669" y="1957">niveles jerárquico</text></g>
<g id="organizacion2"><rect class="n" x="490" y="2040" width="94" height="30" rx="7"/><text class="t" x="537" y="2055">Organización</text></g>
<g id="elproceso"><rect class="nb" x="294" y="2131" width="170" height="28" rx="7"/><text class="t" x="379" y="2145">El Proceso Administrativo</text></g>
<g id="direccion2"><rect class="n" x="140" y="2282" width="70" height="26" rx="7"/><text class="t" x="175" y="2295">Dirección</text></g>
<g id="control2"><rect class="n" x="555" y="2271" width="59" height="24" rx="7"/><text class="t" x="584" y="2283">Control</text></g>
<g id="liderazgo2"><rect class="nb" x="85" y="2364" width="73" height="28" rx="7"/><text class="t" x="121" y="2378">liderazgo</text></g>
<g id="comunicacion2"><rect class="nb" x="190" y="2363" width="98" height="30" rx="7"/><text class="t" x="239" y="2378">comunicación</text></g>
<g id="influencia"><rect class="nb" x="2" y="2394" width="74" height="27" rx="7"/><text class="t" x="39" y="2407">influencia</text></g>
<g id="efectiva"><rect class="nb" x="130" y="2398" width="63" height="28" rx="7"/><text class="t" x="161" y="2412">efectiva</text></g>
<g id="correctivo"><rect class="nb" x="496" y="2335" width="76" height="27" rx="7"/><text class="t" x="534" y="2349">correctivo</text></g>
<g id="preventivo"><rect class="nb" x="610" y="2335" width="81" height="28" rx="7"/><text class="t" x="650" y="2349">preventivo</text></g>
<g id="despues"><rect class="nb" x="457" y="2404" width="87" height="30" rx="7"/><text class="t" x="500" y="2419">después de</text></g>
<g id="antes"><rect class="nb" x="656" y="2409" width="73" height="27" rx="7"/><text class="t" x="692" y="2422">antes de</text></g>
<g id="ocurra"><rect class="nb" x="344" y="2447" width="140" height="29" rx="7"/><text class="t" x="414" y="2461">ocurra la desviación</text></g>
<g id="qq2"><rect class="nb" x="382" y="2449" width="45" height="27" rx="7"/><text class="t" x="404" y="2463">????</text></g>
<g id="susciten"><rect class="nb" x="549" y="2443" width="172" height="29" rx="7"/><text class="t" x="635" y="2457">se susciten los problemas</text></g>

<g id="proveedores1"><rect class="n" x="1053" y="1847" width="106" height="24" rx="6"/><text class="t" x="1106" y="1859" style="font-size:11px">PROVEEDORES</text></g>
<g id="produccion"><rect class="nd" x="824" y="1873" width="97" height="28" rx="6"/><text class="t" x="872" y="1887" style="font-size:11px">PRODUCCIÓN</text></g>
<g id="inventarios"><rect class="n" x="1112" y="1904" width="100" height="24" rx="6"/><text class="t" x="1162" y="1916" style="font-size:11px">INVENTARIOS</text></g>
<g id="almacen"><rect class="nd" x="764" y="1969" width="74" height="24" rx="6"/><text class="t" x="801" y="1981" style="font-size:11px">ALMACEN</text></g>
<g id="rh"><rect class="n" x="1382" y="1949" width="33" height="24" rx="6"/><text class="t" x="1398" y="1961" style="font-size:11px">RH</text></g>
<g id="qqbox"><rect class="nd" x="1218" y="1985" width="42" height="24" rx="6"/><text class="t" x="1239" y="1997" style="font-size:11px">????</text></g>
<g id="pablo"><rect class="nd" x="818" y="2072" width="114" height="77" rx="7"/><text class="t" x="875" y="2112" style="font-size:11px">PABLO</text></g>
<g id="proveedores2"><rect class="n" x="1105" y="2099" width="105" height="24" rx="6"/><text class="t" x="1157" y="2111" style="font-size:11px">PROVEEDORES</text></g>
<g id="sistemas2"><rect class="nd" x="642" y="2149" width="78" height="24" rx="6"/><text class="t" x="681" y="2161" style="font-size:11px">SISTEMAS</text></g>
<g id="clientes"><rect class="n" x="977" y="2353" width="74" height="24" rx="6"/><text class="t" x="1014" y="2365" style="font-size:11px">CLIENTES</text></g>

<g id="investigacion"><ellipse cx="1712" cy="2548" rx="100" ry="60" fill="#800000"/><g style="font-family:'Liberation Serif','Times New Roman',serif;font-size:17px;font-weight:bold;text-anchor:middle;dominant-baseline:central;fill:#000"><text x="1712" y="2527">INVESTIGACION</text><text x="1712" y="2546">DE OPERACIONES II</text><text x="1712" y="2566">Miguel Angel Muñoz</text></g></g>
<g id="progdin"><ellipse cx="1723" cy="2252" rx="84" ry="52" fill="#FFFF99" stroke="#000"/><text class="tq" x="1723" y="2244" style="fill:#2E9B2E">PROGRAMACION</text><text class="tq" x="1723" y="2259" style="fill:#2E9B2E">DINAMICA</text></g>
<g id="lineasespera"><ellipse cx="1945" cy="2286" rx="99" ry="62" fill="#FF6600" stroke="#000"/><text class="tq" x="1945" y="2278" style="fill:#C04A00">TEORIA</text><text class="tq" x="1945" y="2293" style="fill:#C04A00">DE LINEAS DE ESPERA</text></g>
<g id="redes"><ellipse cx="1512" cy="2383" rx="79" ry="60" fill="#FF00FF" stroke="#000"/><text class="tq" x="1512" y="2376" style="fill:#8A3ACF">OPTIMIZACION</text><text class="tq" x="1512" y="2390" style="fill:#8A3ACF">DE REDES</text></g>
<g id="markov"><ellipse cx="1445" cy="2714" rx="87" ry="54" fill="#FFFF00" stroke="#000"/><text class="tq" x="1445" y="2714" style="fill:#66AA00;font-size:11px">CADENAS  DE  MARKOV</text></g>
<g id="decisiones"><ellipse cx="1905" cy="2748" rx="96" ry="58" fill="#00FFFF" stroke="#000"/><text class="tq" x="1905" y="2740" style="fill:#3366CC">TEORIA</text><text class="tq" x="1905" y="2755" style="fill:#3366CC">DE DECISIONES</text></g>

<g id="diferencial"><rect class="n" x="2235" y="2272" width="78" height="24" rx="6"/><text class="t" x="2274" y="2284" style="font-size:11px">Diferencial</text></g>
<g id="integral"><rect class="n" x="2565" y="2265" width="61" height="27" rx="6"/><text class="t" x="2595" y="2278" style="font-size:11px">Integral</text></g>
<g id="calculo"><rect class="n" x="2389" y="2342" width="58" height="26" rx="6"/><text class="t" x="2418" y="2355" style="font-size:11px">Cálculo</text></g>
<g id="probabilidad"><rect class="n" x="2620" y="2341" width="88" height="25" rx="6"/><text class="t" x="2664" y="2353" style="font-size:11px">Probabilidad</text></g>
<g id="deductiva"><rect class="n" x="2872" y="2385" width="76" height="24" rx="6"/><text class="t" x="2910" y="2397" style="font-size:11px">Deductiva</text></g>
<g id="estadistica"><rect class="n" x="2672" y="2438" width="80" height="27" rx="6"/><text class="t" x="2712" y="2452" style="font-size:11px">Estadística</text></g>
<g id="algebralineal"><rect class="n" x="2398" y="2462" width="97" height="31" rx="6"/><text class="t" x="2446" y="2478" style="font-size:11px">Álgebra lineal</text></g>
<g id="inductiva"><rect class="n" x="2887" y="2516" width="72" height="24" rx="6"/><text class="t" x="2923" y="2528" style="font-size:11px">Inductiva</text></g>
<g id="analitica"><rect class="n" x="2091" y="2542" width="67" height="26" rx="6"/><text class="t" x="2124" y="2555" style="font-size:11px">Analítica</text></g>
<g id="geometria"><rect class="n" x="2301" y="2561" width="78" height="27" rx="6"/><text class="t" x="2340" y="2575" style="font-size:11px">Geometría</text></g>
<g id="algebra"><rect class="n" x="2581" y="2562" width="60" height="31" rx="6"/><text class="t" x="2611" y="2578" style="font-size:11px">Álgebra</text></g>
<g id="plana"><rect class="n" x="2129" y="2662" width="200" height="26" rx="6"/><text class="t" x="2229" y="2675" style="font-size:11px">Plana y en el espacio: 2D y 3D</text></g>
<g id="aritmetica"><rect class="n" x="2565" y="2782" width="75" height="26" rx="6"/><text class="t" x="2602" y="2795" style="font-size:11px">Aritmética</text></g>
<g id="quijano"><rect class="n" x="2753" y="2777" width="97" height="26" rx="6"/><text class="t" x="2801" y="2790" style="font-size:11px">Mapa Quijano</text></g>
</svg>
